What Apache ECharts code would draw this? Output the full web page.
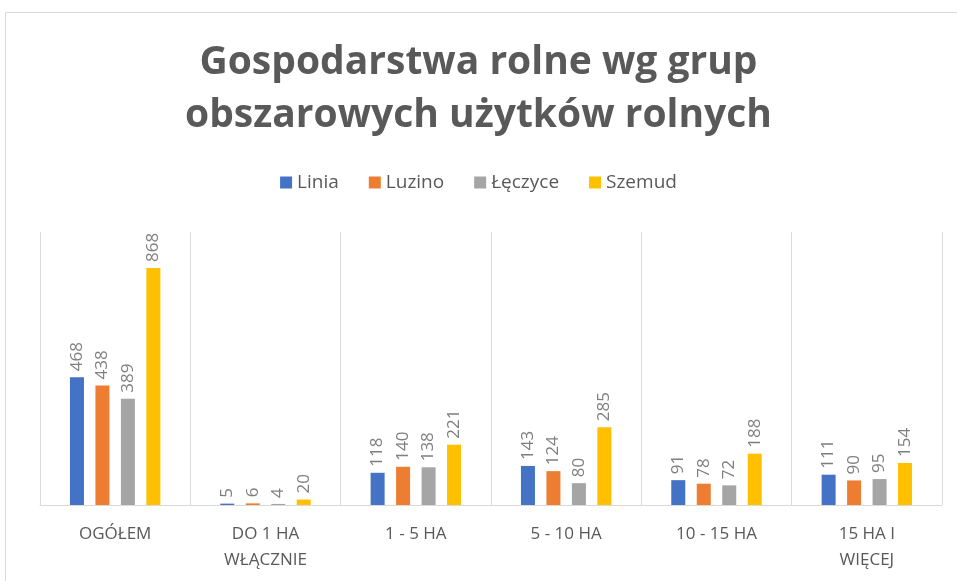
<!DOCTYPE html>
<html>
<head>
<meta charset="utf-8">
<title>Gospodarstwa rolne</title>
<script src="https://cdn.jsdelivr.net/npm/echarts@6/dist/echarts.min.js"></script>
<style>
  html, body { margin: 0; padding: 0; background: #fff; }
  #chart { width: 957px; height: 581px; }
</style>
</head>
<body>
<div id="chart"></div>
<script>
  // dane
  var categories = ['Ogółem', 'do 1 ha\nwłącznie', '1 - 5 ha', '5 - 10 ha', '10 - 15 ha', '15 ha i\nwięcej'];
  var seriesNames = ['Linia', 'Luzino', 'Łęczyce', 'Szemud'];
  var linia = [468, 5, 118, 143, 91, 111];
  var luzino = [438, 6, 140, 124, 78, 90];
  var leczyce = [389, 4, 138, 80, 72, 95];
  var szemud = [868, 20, 221, 285, 188, 154];
  var colors = ['#4472C4', '#ED7D31', '#A5A5A5', '#FFC000'];

  var chart = echarts.init(document.getElementById('chart'));
  var values = [linia, luzino, leczyce, szemud];

  var series = seriesNames.map(function (name, i) {
    return {
      name: name,
      type: 'bar',
      data: values[i],
      barWidth: 14,
      barGap: '82%',
      itemStyle: { color: colors[i] },
      label: {
        show: true,
        position: 'top',
        rotate: 90,
        align: 'left',
        verticalAlign: 'middle',
        distance: 6,
        color: '#7f7f7f',
        fontFamily: 'Open Sans',
        fontSize: 17
      }
    };
  });

  var option = {
    backgroundColor: '#fff',
    animation: false,
    color: colors,
    title: {
      text: 'Gospodarstwa rolne wg grup\nobszarowych użytków rolnych',
      left: 'center',
      top: 31,
      textStyle: {
        color: '#595959',
        fontFamily: 'Open Sans',
        fontWeight: 'bold',
        fontSize: 39,
        lineHeight: 53
      }
    },
    legend: {
      top: 168,
      left: 'center',
      icon: 'rect',
      itemWidth: 12,
      itemHeight: 12,
      itemGap: 30,
      textStyle: { color: '#595959', fontFamily: 'Open Sans', fontSize: 19 },
      data: seriesNames
    },
    graphic: [{
      type: 'rect',
      shape: { x: 5.5, y: 12.5, width: 960, height: 580 },
      style: { fill: 'none', stroke: '#d9d9d9', lineWidth: 1 },
      silent: true
    }],
    grid: { left: 40, right: 15, top: 232, bottom: 76 },
    xAxis: {
      type: 'category',
      data: categories,
      axisLine: { lineStyle: { color: '#d9d9d9', width: 1 } },
      axisTick: { show: false },
      splitLine: { show: true, lineStyle: { color: '#d9d9d9', width: 1 } },
      axisLabel: {
        color: '#595959',
        fontFamily: 'Open Sans',
        fontSize: 17,
        lineHeight: 26,
        margin: 16,
        interval: 0,
        formatter: function (v) { return v.toUpperCase(); }
      }
    },
    yAxis: {
      type: 'value',
      min: 0,
      max: 1000,
      show: false
    },
    series: series
  };

  chart.setOption(option);
</script>
</body>
</html>
